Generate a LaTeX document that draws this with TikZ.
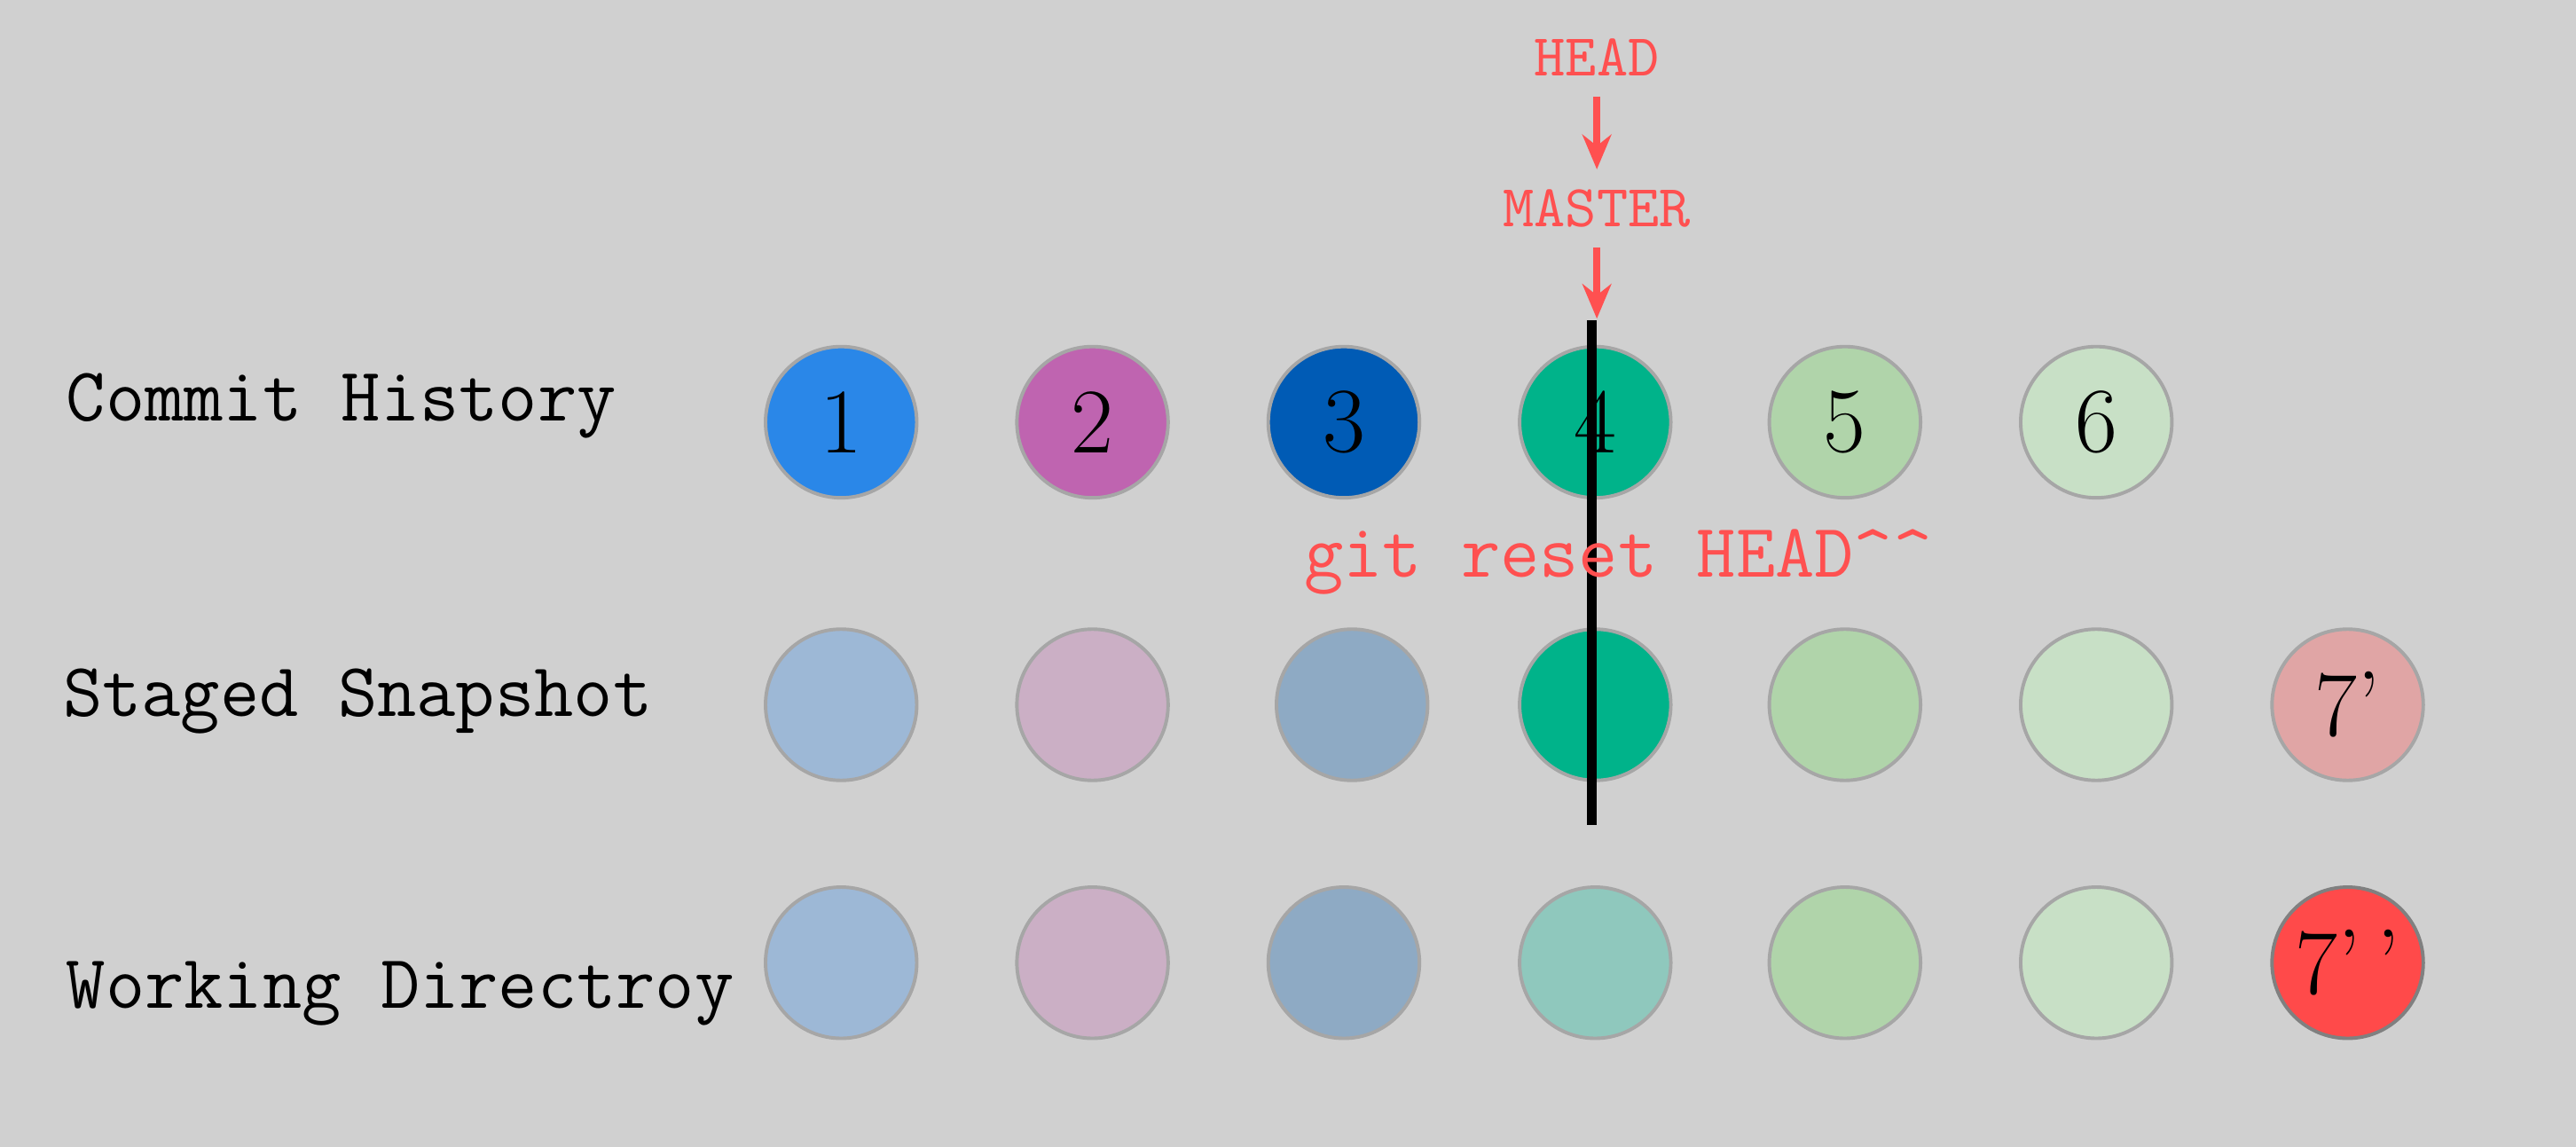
\documentclass[tikz,border=0pt]{standalone}
\usepackage{xcolor}
\usetikzlibrary{arrows.meta, positioning}
\definecolor{bg}{HTML}{D0D0D0}
\definecolor{note}{HTML}{FF5050}

\begin{document}
\begin{tikzpicture}[x=0.01cm, y=-0.01cm,
    commit/.style={circle, draw=gray!70, line width=0.6pt, minimum size=0.92cm, inner sep=0pt, font=\fontsize{16}{16}\selectfont},
    rowlabel/.style={anchor=west, font=\ttfamily\fontsize{13.2}{14}\selectfont},
    ptr/.style={font=\ttfamily\fontsize{10.3}{11}\selectfont, text=note},
    arrow/.style={note, line width=1.2pt, -{Stealth[length=6pt, width=5pt]}}]

    \fill [bg] (0,0) rectangle (1568,698);
    \useasboundingbox (0,0) rectangle (1568,698);

    % row labels
    \node [rowlabel] (lhist) at (28,247) {Commit History};
    \node [rowlabel] (lstage) at (26,427) {Staged Snapshot};
    \node [rowlabel] (lwork) at (28,605) {Working Directroy};

    % commit history
    \node [commit, fill={rgb,255:red,42;green,135;blue,232}] (c1) at (512,257) {1};
    \node [commit, fill={rgb,255:red,191;green,100;blue,176}] (c2) at (665,257) {2};
    \node [commit, fill={rgb,255:red,0;green,91;blue,181}] (c3) at (818,257) {3};
    \node [commit, fill={rgb,255:red,0;green,179;blue,138}] (c4) at (971,257) {4};
    \node [commit, fill={rgb,255:red,176;green,212;blue,170}] (c5) at (1123,257) {5};
    \node [commit, fill={rgb,255:red,200;green,224;blue,198}] (c6) at (1276,257) {6};

    % staged snapshot
    \node [commit, fill={rgb,255:red,157;green,184;blue,214}] (s1) at (512,429) {};
    \node [commit, fill={rgb,255:red,203;green,175;blue,197}] (s2) at (665,429) {};
    \node [commit, fill={rgb,255:red,142;green,170;blue,196}] (s3) at (823,429) {};
    \node [commit, fill={rgb,255:red,0;green,179;blue,138}] (s4) at (971,429) {};
    \node [commit, fill={rgb,255:red,176;green,212;blue,170}] (s5) at (1123,429) {};
    \node [commit, fill={rgb,255:red,200;green,224;blue,198}] (s6) at (1276,429) {};
    \node [commit, fill={rgb,255:red,224;green,165;blue,165}] (s7) at (1429,429) {7’};

    % working directory
    \node [commit, fill={rgb,255:red,157;green,184;blue,214}] (w1) at (512,586) {};
    \node [commit, fill={rgb,255:red,203;green,175;blue,197}] (w2) at (665,586) {};
    \node [commit, fill={rgb,255:red,142;green,170;blue,196}] (w3) at (818,586) {};
    \node [commit, fill={rgb,255:red,143;green,200;blue,189}] (w4) at (971,586) {};
    \node [commit, fill={rgb,255:red,176;green,212;blue,170}] (w5) at (1123,586) {};
    \node [commit, fill={rgb,255:red,200;green,224;blue,198}] (w6) at (1276,586) {};
    \node [commit, draw=gray, fill={rgb,255:red,255;green,74;blue,74}] (w7) at (1429,586) {7’\,’};

    % pointers
    \node [ptr] (head) at (972,35) {HEAD};
    \node [ptr] (master) at (972,127) {MASTER};
    \draw [arrow] (head) -- (master);
    \draw [arrow] (master) -- ++(0,67);

    % reset line
    \coordinate (rtop) at (969,195);
    \coordinate (rbot) at (969,502);
    \draw [line width=1.6pt] (rtop) -- (rbot);
    \node [text=note, font=\ttfamily\fontsize{13.2}{14}\selectfont] (reset) at (985,342) {git reset HEAD\^{}\^{}};
\end{tikzpicture}
\end{document}
